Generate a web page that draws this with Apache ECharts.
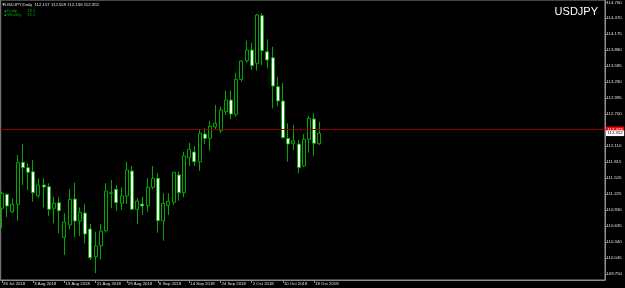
<!DOCTYPE html>
<html><head><meta charset="utf-8">
<script src="https://cdn.jsdelivr.net/npm/echarts@6/dist/echarts.min.js"></script>
<style>html,body{margin:0;padding:0;background:#000;}#c{width:625px;height:288px;}</style>
</head><body><div id="c"></div>
<script>
const symbolName = 'USDJPY';
const timeframe = 'Daily';
const dates = [
 '26 Jul 2018','27 Jul 2018','30 Jul 2018','31 Jul 2018',
 '1 Aug 2018','2 Aug 2018','3 Aug 2018','6 Aug 2018','7 Aug 2018','8 Aug 2018','9 Aug 2018','10 Aug 2018',
 '13 Aug 2018','14 Aug 2018','15 Aug 2018','16 Aug 2018','17 Aug 2018','20 Aug 2018','21 Aug 2018','22 Aug 2018',
 '23 Aug 2018','24 Aug 2018','27 Aug 2018','28 Aug 2018','29 Aug 2018','30 Aug 2018','31 Aug 2018',
 '3 Sep 2018','4 Sep 2018','5 Sep 2018','6 Sep 2018','7 Sep 2018','10 Sep 2018','11 Sep 2018','12 Sep 2018',
 '13 Sep 2018','14 Sep 2018','17 Sep 2018','18 Sep 2018','19 Sep 2018','20 Sep 2018','21 Sep 2018',
 '24 Sep 2018','25 Sep 2018','26 Sep 2018','27 Sep 2018','28 Sep 2018',
 '1 Oct 2018','2 Oct 2018','3 Oct 2018','4 Oct 2018','5 Oct 2018','8 Oct 2018','9 Oct 2018','10 Oct 2018',
 '11 Oct 2018','12 Oct 2018','15 Oct 2018','16 Oct 2018','17 Oct 2018','18 Oct 2018','19 Oct 2018'
];
const opens = [
 110.967,111.225,110.904,111.040,111.815,111.715,111.641,111.199,111.396,111.365,
 110.967,111.070,110.432,110.659,111.138,110.732,110.880,110.585,110.074,110.277,
 110.554,111.239,111.317,111.059,111.193,111.654,110.948,111.046,111.015,111.354,
 111.520,110.738,111.022,111.077,111.581,111.254,111.900,112.005,111.826,112.336,
 112.257,112.466,112.397,112.748,112.963,112.700,113.345,113.688,113.885,113.640,
 114.518,113.854,113.743,113.209,112.945,112.257,112.165,112.152,111.747,112.239,
 112.613,112.157
];
const closes = [
 111.243,111.009,111.040,111.807,111.715,111.630,111.254,111.396,111.359,110.948,
 111.059,110.922,110.709,111.133,110.732,110.893,110.493,110.056,110.272,110.548,
 111.286,111.254,111.070,111.193,111.673,110.948,111.101,111.009,111.354,111.520,
 110.738,111.059,111.096,111.630,111.254,111.931,112.054,111.826,112.349,112.254,
 112.475,112.534,112.779,112.963,112.705,113.345,113.682,113.885,113.596,114.530,
 113.872,113.701,113.221,112.945,112.268,112.152,112.207,111.715,112.239,112.626,
 112.165,112.352
];
const highs = [
 111.273,111.243,111.151,111.949,112.152,111.796,111.857,111.520,111.520,111.428,
 111.180,111.169,110.874,111.317,111.439,110.985,111.046,110.677,110.535,110.677,
 111.428,111.488,111.396,111.354,111.826,111.747,111.151,111.180,111.520,111.747,
 111.612,111.243,111.243,111.641,111.641,112.010,112.176,112.115,112.410,112.442,
 112.582,112.871,112.840,113.135,113.135,113.467,113.701,114.057,114.020,114.549,
 114.562,114.082,113.946,113.382,113.282,112.534,112.502,112.226,112.336,112.668,
 112.718,112.559
];
const lows = [
 110.604,110.801,110.874,110.738,111.396,111.304,111.088,111.151,110.985,110.825,
 110.690,110.506,110.106,110.579,110.432,110.456,110.321,110.013,109.768,110.026,
 110.517,110.967,110.922,110.935,111.046,110.935,110.677,110.843,110.904,111.317,
 110.517,110.369,110.843,111.027,111.107,111.169,111.747,111.747,111.660,112.152,
 112.029,112.410,112.355,112.687,112.613,112.655,113.301,113.651,113.516,113.504,
 113.609,113.548,112.810,112.844,112.254,111.826,112.041,111.612,111.723,111.992,
 111.931,112.136
];
const dateTickIndex = [0,6,12,18,24,30,36,42,48,54,60];
const priceTicks = [109.750,110.045,110.340,110.635,110.930,111.225,111.520,111.815,112.110,
 112.405,112.700,112.995,113.290,113.585,113.880,114.175,114.470,114.760];
const levelLine = 112.423;
const indicatorNames = ['Daily','Weekly'];
const indicatorValues = ['19.2','15.1'];

const n = dates.length;
const data = dates.map((d,i)=>[i, opens[i], closes[i], lows[i], highs[i]]);
const header = symbolName + ',' + timeframe + '  ' + [opens[n-1],highs[n-1],lows[n-1],closes[n-1]].map(v=>v.toFixed(3)).join(' ');
const FONT = '"Liberation Sans", Arial, sans-serif';
const GREEN = '#00a800';
const FS = 4.3;

const chart = echarts.init(document.getElementById('c'), null, {renderer:'canvas'});
const graphics = [
 {type:'text', x:1.5, y:4.5, style:{text:'▼', fill:'#e0e0e0', font:FS+'px '+FONT, align:'left', verticalAlign:'middle'}},
 {type:'text', x:5, y:4.5, style:{text:header, fill:'#e0e0e0', font:FS+'px '+FONT, align:'left', verticalAlign:'middle'}},
 {type:'text', x:598, y:12, style:{text:symbolName, fill:'#ffffff', font:'11px '+FONT, align:'right', verticalAlign:'middle'}}
];
indicatorNames.forEach((nm,k)=>{
 const yy = 10.7 + k*4.5;
 graphics.push({type:'text', x:3.3, y:yy, style:{text:'▲', fill:GREEN, font:FS+'px '+FONT, align:'left', verticalAlign:'middle'}});
 graphics.push({type:'text', x:7.3, y:yy, style:{text:nm, fill:GREEN, font:FS+'px '+FONT, align:'left', verticalAlign:'middle'}});
 graphics.push({type:'text', x:27, y:yy, style:{text:indicatorValues[k], fill:GREEN, font:FS+'px '+FONT, align:'left', verticalAlign:'middle'}});
});

chart.setOption({
 backgroundColor:'#000000',
 animation:false,
 grid:{left:0, top:0, width:606, height:280, show:true, borderColor:'#8c8c8c', borderWidth:1, backgroundColor:'transparent'},
 xAxis:{type:'value', min:-0.25, max:115.9,
  axisLine:{show:true, lineStyle:{color:'#8c8c8c', width:1}},
  splitLine:{show:false},
  axisTick:{show:true, length:3, customValues:dateTickIndex, lineStyle:{color:'#8c8c8c'}},
  axisLabel:{show:true, customValues:dateTickIndex, formatter:(v)=>dates[Math.round(v)]||'', align:'left', color:'#e0e0e0', fontSize:FS, fontFamily:FONT, margin:1.5, padding:[0,0,0,1]}
 },
 yAxis:{type:'value', position:'right', min:109.645, max:114.807,
  axisLine:{show:true, onZero:false, lineStyle:{color:'#8c8c8c', width:1}},
  splitLine:{show:false},
  axisTick:{show:true, length:2, customValues:priceTicks, lineStyle:{color:'#8c8c8c'}},
  axisLabel:{show:true, customValues:priceTicks, formatter:(v)=>v.toFixed(3), color:'#e0e0e0', fontSize:FS, fontFamily:FONT, margin:1.5}
 },
 graphic:graphics,
 series:[{
  type:'candlestick',
  dimensions:['idx','open','close','lowest','highest'],
  encode:{x:0, y:[1,2,3,4]},
  data:data,
  barWidth:3.5,
  itemStyle:{color:'#000000', color0:'#ffffff', borderColor:GREEN, borderColor0:GREEN, borderWidth:1},
  markLine:{symbol:'none', silent:true, animation:false,
   data:[
    {yAxis:levelLine, lineStyle:{color:'#8b0000', width:1, type:'solid'},
     label:{show:true, position:'end', formatter:levelLine.toFixed(3), backgroundColor:'#ff0000', color:'#ffffff', fontSize:FS, fontFamily:FONT, padding:[0.8,1.5], distance:1}},
    {yAxis:closes[n-1], lineStyle:{color:'rgba(0,0,0,0)', width:1},
     label:{show:true, position:'end', formatter:closes[n-1].toFixed(3), backgroundColor:'#ffffff', color:'#000000', fontSize:FS, fontFamily:FONT, padding:[0.8,1.5], distance:1}}
   ]}
 }]
});
</script>
</body></html>
